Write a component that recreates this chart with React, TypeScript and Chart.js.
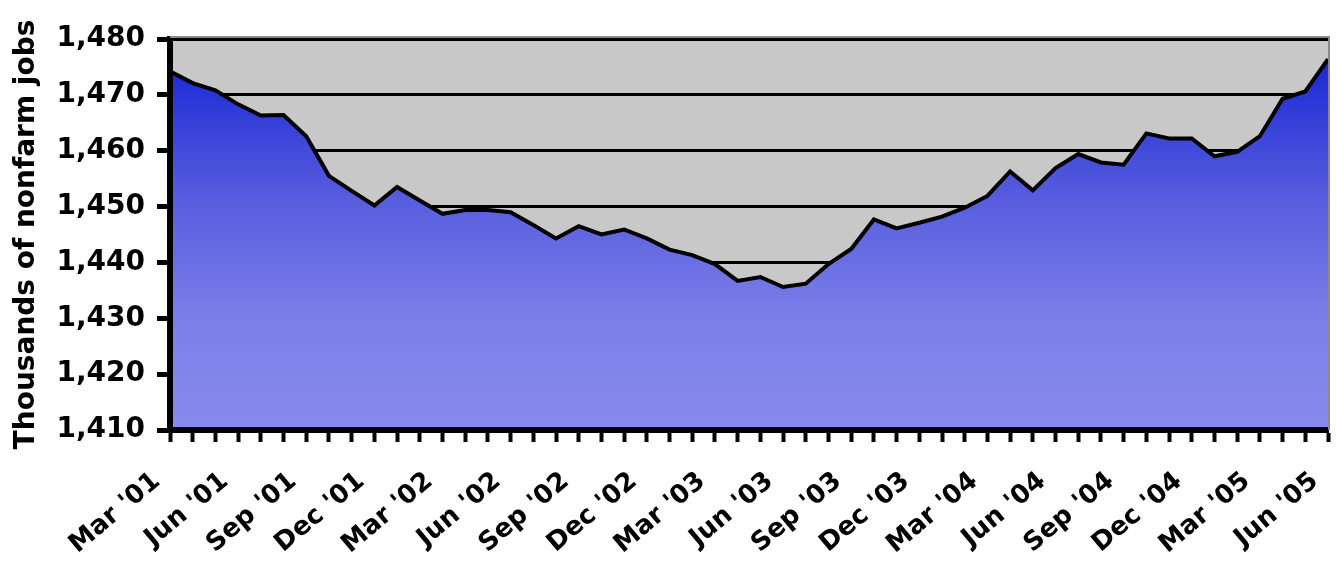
import { useEffect, useRef } from 'react';
import { Chart, registerables } from 'chart.js';

Chart.register(...registerables);

const categories = [
  "Mar '01", "Apr '01", "May '01", "Jun '01", "Jul '01", "Aug '01", "Sep '01", "Oct '01", "Nov '01", "Dec '01",
  "Jan '02", "Feb '02", "Mar '02", "Apr '02", "May '02", "Jun '02", "Jul '02", "Aug '02", "Sep '02", "Oct '02", "Nov '02", "Dec '02",
  "Jan '03", "Feb '03", "Mar '03", "Apr '03", "May '03", "Jun '03", "Jul '03", "Aug '03", "Sep '03", "Oct '03", "Nov '03", "Dec '03",
  "Jan '04", "Feb '04", "Mar '04", "Apr '04", "May '04", "Jun '04", "Jul '04", "Aug '04", "Sep '04", "Oct '04", "Nov '04", "Dec '04",
  "Jan '05", "Feb '05", "Mar '05", "Apr '05", "May '05", "Jun '05",
];

const nonfarmJobs = [
  1474.2, 1472.1, 1470.8, 1468.3, 1466.3, 1466.4, 1462.6, 1455.5, 1452.8, 1450.2,
  1453.5, 1451.1, 1448.7, 1449.4, 1449.4, 1449.0, 1446.7, 1444.3, 1446.5, 1445.0, 1445.9, 1444.3,
  1442.3, 1441.3, 1439.7, 1436.7, 1437.4, 1435.6, 1436.2, 1439.7, 1442.4, 1447.7, 1446.1, 1447.1,
  1448.2, 1449.8, 1451.9, 1456.3, 1452.9, 1456.9, 1459.4, 1457.9, 1457.5, 1463.1, 1462.2, 1462.2,
  1459.0, 1459.8, 1462.6, 1469.3, 1470.6, 1476.4,
];

const yMin = 1410;
const yMax = 1480;
const yStep = 10;
const labelEvery = 3;
const yTitle = 'Thousands of nonfarm jobs';

const FONT = "'DejaVu Sans', Verdana, sans-serif";

const plotDecor = {
  id: 'plotDecor',
  beforeDraw(chart: any) {
    const { ctx, chartArea } = chart;
    if (!chartArea) return;
    ctx.save();
    ctx.fillStyle = '#c8c8c8';
    ctx.fillRect(chartArea.left, chartArea.top, chartArea.right - chartArea.left, chartArea.bottom - chartArea.top);
    ctx.restore();
  },
  afterDraw(chart: any) {
    const { ctx, chartArea } = chart;
    if (!chartArea) return;
    ctx.save();
    ctx.strokeStyle = '#8a8a8a';
    ctx.lineWidth = 2;
    ctx.beginPath();
    ctx.moveTo(chartArea.left, chartArea.top - 2);
    ctx.lineTo(chartArea.right + 1, chartArea.top - 2);
    ctx.lineTo(chartArea.right + 1, chartArea.bottom);
    ctx.stroke();
    ctx.restore();
  },
};

export default function App() {
  const ref = useRef<HTMLCanvasElement | null>(null);

  useEffect(() => {
    if (!ref.current) return;
    const chart = new Chart(ref.current, {
      type: 'line',
      data: {
        labels: categories,
        datasets: [
          {
            data: nonfarmJobs,
            borderColor: '#000000',
            borderWidth: 4,
            borderJoinStyle: 'miter',
            pointRadius: 0,
            tension: 0,
            fill: 'start',
            backgroundColor: (c: any) => {
              const area = c.chart.chartArea;
              if (!area) return '#6a70e0';
              const g = c.chart.ctx.createLinearGradient(0, area.top, 0, area.bottom);
              g.addColorStop(0, 'rgb(16,32,212)');
              g.addColorStop(0.4, 'rgb(86,92,222)');
              g.addColorStop(0.72, 'rgb(124,127,232)');
              g.addColorStop(1, 'rgb(136,138,236)');
              return g;
            },
          },
        ],
      },
      options: {
        animation: false,
        responsive: false,
        devicePixelRatio: 1,
        layout: { padding: { top: 39, right: 8, left: 0, bottom: 0 } },
        plugins: {
          legend: { display: false },
          tooltip: { enabled: false },
          title: { display: false },
        },
        scales: {
          x: {
            type: 'category',
            offset: false,
            grid: {
              offset: false,
              drawOnChartArea: false,
              drawTicks: true,
              tickLength: 12,
              tickWidth: 4,
              tickColor: '#000000',
              color: '#000000',
            },
            border: { display: true, color: '#000000', width: 6, z: 1 },
            ticks: {
              autoSkip: false,
              maxRotation: 40,
              minRotation: 40,
              padding: 24,
              labelOffset: -13,
              color: '#000000',
              font: { family: FONT, weight: 'bold', size: 26 },
              callback: function (this: any, value: any, index: number) {
                return index % labelEvery === 0 ? this.getLabelForValue(value) : '';
              },
            },
            afterFit: (scale: any) => {
              scale.height = 136;
              scale.paddingLeft = 0;
              scale.paddingRight = 0;
            },
          },
          y: {
            min: yMin,
            max: yMax,
            grid: {
              color: '#000000',
              lineWidth: 3,
              drawTicks: true,
              tickLength: 13,
              tickWidth: 5,
              tickColor: '#000000',
            },
            border: { display: true, color: '#000000', width: 6, z: 1 },
            ticks: {
              stepSize: yStep,
              padding: 12,
              color: '#000000',
              font: { family: FONT, weight: 'bold', size: 28 },
              callback: (v: any) => Number(v).toLocaleString('en-US'),
            },
            title: {
              display: true,
              text: yTitle,
              color: '#000000',
              font: { family: FONT, weight: 'bold', size: 28 },
              padding: { top: 10, bottom: 0 },
            },
            afterFit: (scale: any) => {
              scale.width = 170;
              scale.paddingTop = 0;
              scale.paddingBottom = 0;
            },
          },
        },
      },
      plugins: [plotDecor],
    });
    return () => chart.destroy();
  }, []);

  return (
    <div style={{ position: 'fixed', left: 0, top: 0, width: 1336, height: 566, background: '#ffffff' }}>
      <canvas ref={ref} width={1336} height={566} style={{ width: 1336, height: 566, display: 'block' }} />
    </div>
  );
}
